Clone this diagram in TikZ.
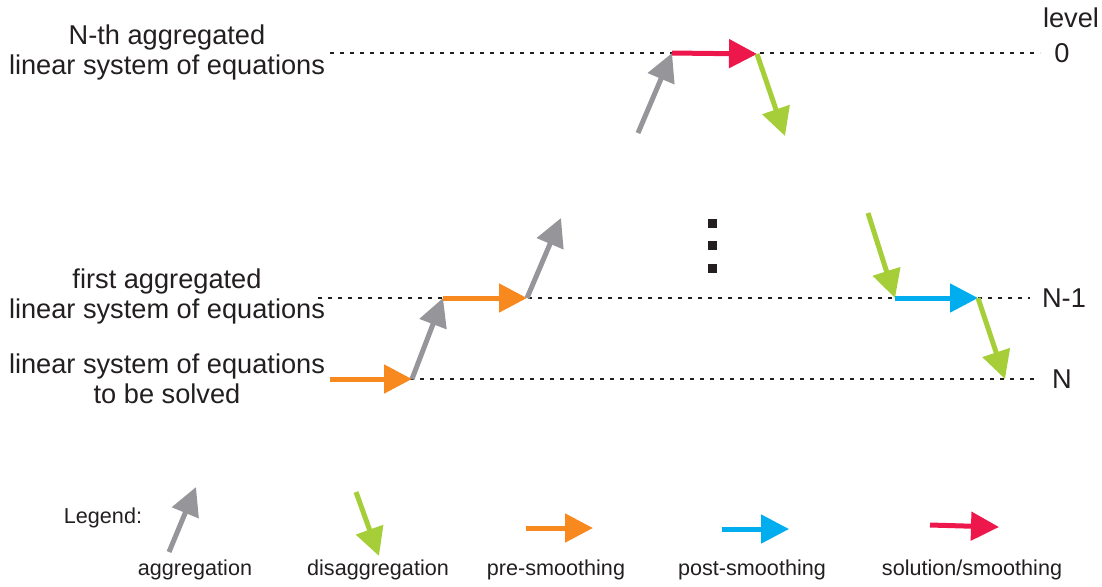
\documentclass[tikz,border=0pt]{standalone}
\usepackage{fontspec}
\setmainfont{Liberation Sans}
\usetikzlibrary{arrows.meta}
\definecolor{cgray}{RGB}{150,150,154}
\definecolor{cgreen}{RGB}{166,206,57}
\definecolor{corange}{RGB}{247,137,31}
\definecolor{cblue}{RGB}{0,174,239}
\definecolor{cred}{RGB}{237,23,76}
\definecolor{ctext}{RGB}{35,31,32}
\begin{document}
\begin{tikzpicture}[x=0.5pt,y=-0.5pt,
  lvl/.style={ctext,line width=1.1pt,dash pattern=on 2.2pt off 2.8pt},
  arr/.style={line width=2.5pt,-{Triangle[length=14pt,width=14pt]},shorten >=0pt},
  lab/.style={text=ctext,font=\fontsize{13.6}{15}\selectfont,align=center,inner sep=0pt},
  leg/.style={text=ctext,font=\fontsize{10.8}{12}\selectfont,inner sep=0pt},
  dotsq/.style={fill=ctext,minimum size=4.5pt,inner sep=0pt}]
\useasboundingbox (0,0) rectangle (1102,586);
% level lines
\coordinate (l0a) at (330,53); \coordinate (l0b) at (1040,53);
\coordinate (l1a) at (318,298); \coordinate (l1b) at (1030,298);
\coordinate (l2a) at (330,379); \coordinate (l2b) at (1035,379);
\draw[lvl] (l0a) -- (l0b);
\draw[lvl] (l1a) -- (l1b);
\draw[lvl] (l2a) -- (l2b);
% left labels
\node[lab] (t0) at (167,52) {N-th aggregated\\linear system of equations};
\node[lab] (t1) at (167,296) {first aggregated\\linear system of equations};
\node[lab] (t2) at (167,379) {linear system of equations\\to be solved};
% right labels
\node[lab] (lv) at (1071,18) {level};
\node[lab] (n0) at (1062,53) {0};
\node[lab] (n1) at (1064,298) {N-1};
\node[lab] (n2) at (1062,379) {N};
% path points
\coordinate (p0) at (330,379);
\coordinate (p1) at (412,379);
\coordinate (p2) at (443,298);
\coordinate (p3) at (527,298);
\coordinate (p4) at (561,218);
\coordinate (q0) at (638,133);
\coordinate (q1) at (672,53);
\coordinate (q2) at (757,54);
\coordinate (q3) at (785,136);
\coordinate (r0) at (868,213);
\coordinate (r1) at (895,298);
\coordinate (r2) at (978,298);
\coordinate (r3) at (1005,379);
\draw[arr,corange] (p0) -- (p1);
\draw[arr,cgray] (p1) -- (p2);
\draw[arr,corange] (p2) -- (p3);
\draw[arr,cgray] (p3) -- (p4);
\draw[arr,cgray] (q0) -- (q1);
\draw[arr,cred] (q1) -- (q2);
\draw[arr,cgreen] (q2) -- (q3);
\draw[arr,cgreen] (r0) -- (r1);
\draw[arr,cblue] (r1) -- (r2);
\draw[arr,cgreen] (r2) -- (r3);
% vertical dots
\node[dotsq] (d1) at (712,223) {};
\node[dotsq] (d2) at (712,245) {};
\node[dotsq] (d3) at (712,268) {};
% legend
\node[leg] (lg) at (103,518) {Legend:};
\coordinate (ga) at (169,552); \coordinate (gb) at (196,487);
\coordinate (da) at (356,492); \coordinate (db) at (379,556);
\coordinate (pa) at (526,528); \coordinate (pb) at (593,528);
\coordinate (sa) at (722,529); \coordinate (sb) at (789,529);
\coordinate (ra) at (930,525); \coordinate (rb) at (999,527);
\draw[arr,cgray] (ga) -- (gb);
\draw[arr,cgreen] (da) -- (db);
\draw[arr,corange] (pa) -- (pb);
\draw[arr,cblue] (sa) -- (sb);
\draw[arr,cred] (ra) -- (rb);
\node[leg] (la) at (195,570) {aggregation};
\node[leg] (lb) at (378,570) {disaggregation};
\node[leg] (lc) at (556,570) {pre-smoothing};
\node[leg] (ld) at (752,570) {post-smoothing};
\node[leg] (le) at (972,570) {solution/smoothing};
\end{tikzpicture}
\end{document}
